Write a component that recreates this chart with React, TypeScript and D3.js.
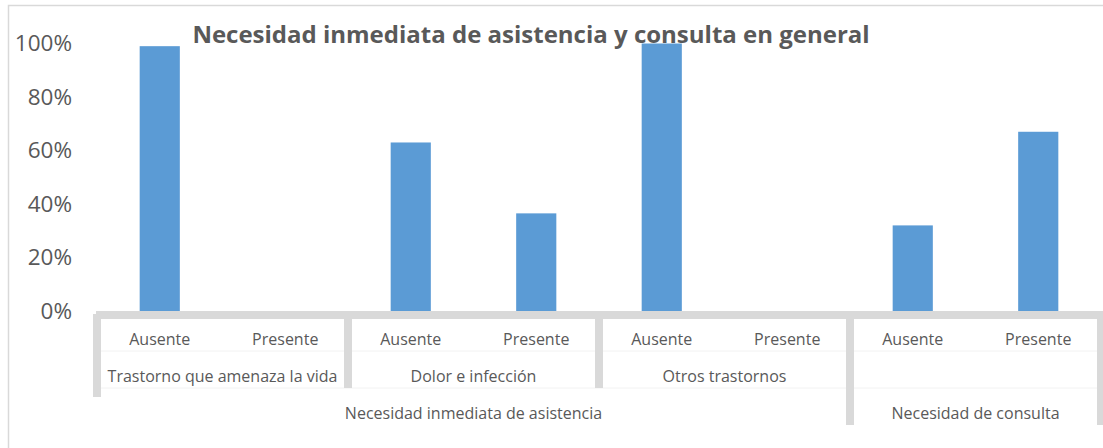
import React from 'react';
import * as d3 from 'd3';

const categories = ['Ausente', 'Presente', 'Ausente', 'Presente', 'Ausente', 'Presente', 'Ausente', 'Presente'];
const subgroups = ['Trastorno que amenaza la vida', 'Dolor e infección', 'Otros trastornos', ''];
const subgroupSpans = [2, 2, 2, 2];
const groups = ['Necesidad inmediata de asistencia', 'Necesidad de consulta'];
const groupSpans = [6, 2];
const values = [0.99, 0, 0.63, 0.365, 1.0, 0, 0.32, 0.67];
const yTicks = [0, 0.2, 0.4, 0.6, 0.8, 1.0];
const title = 'Necesidad inmediata de asistencia y consulta en general';

const W = 1103;
const H = 448;
const FONT = "'Open Sans', sans-serif";
const TXT = '#595959';
const AXIS = '#d9d9d9';

export default function App() {
  const x = d3.scaleBand<number>().domain(d3.range(categories.length)).range([97, 1101]).padding(0);
  const y = d3.scaleLinear().domain([0, 1]).range([311, 43.5]);
  const step = x.step();
  const barW = step * 0.32;
  const fmt = d3.format('.0%');

  const row1 = 339;
  const row2 = 376;
  const row3 = 413;
  const axisTop = 311;
  const lvl1Bottom = 351;
  const lvl2Bottom = 388;
  const lvl3Bottom = 425;

  const subBounds: number[] = [];
  let acc = 0;
  subgroupSpans.forEach((s) => { subBounds.push(acc); acc += s; });
  subBounds.push(acc);
  const grpBounds: number[] = [];
  acc = 0;
  groupSpans.forEach((s) => { grpBounds.push(acc); acc += s; });
  grpBounds.push(acc);

  const xb = (i: number) => (i >= categories.length ? x.range()[1] : (x(i) as number));

  const sepW = 8;

  return (
    <svg width={W} height={H} style={{ position: 'absolute', left: 0, top: 0, background: '#fff' }}>
      <rect x={0} y={0} width={W} height={H} fill="#fff" />
      <rect x={8.5} y={5.5} width={1200} height={600} fill="none" stroke={AXIS} strokeWidth={1.5} />
      <text x={531} y={43} textAnchor="middle" fontFamily={FONT} fontWeight="bold" fontSize={24} fill={TXT}>
        {title}
      </text>
      {yTicks.map((t) => (
        <text key={t} x={72} y={y(t)} dy="0.35em" textAnchor="end" fontFamily={FONT} fontSize={22.5} fill={TXT}>
          {fmt(t)}
        </text>
      ))}
      {values.map((v, i) => (
        <rect
          key={i}
          x={(x(i) as number) + step / 2 - barW / 2}
          y={y(v)}
          width={barW}
          height={y(0) - y(v)}
          fill="#5B9BD5"
        />
      ))}
      <line x1={97} x2={1101} y1={lvl1Bottom} y2={lvl1Bottom} stroke="#f2f2f2" strokeWidth={1} />
      <line x1={97} x2={1101} y1={lvl2Bottom} y2={lvl2Bottom} stroke="#f2f2f2" strokeWidth={1} />
      <rect x={96} y={axisTop} width={1103 - 96} height={sepW} fill={AXIS} />
      {subBounds.map((b, i) => {
        const isGroupBound = grpBounds.includes(b);
        const bottom = b === 0 ? 397 : isGroupBound ? lvl3Bottom : lvl2Bottom;
        const cx = xb(b);
        return <rect key={'s' + i} x={cx - sepW / 2} y={axisTop + 3} width={sepW} height={bottom - axisTop - 3} fill={AXIS} />;
      })}
      {categories.map((c, i) => (
        <text key={'c' + i} x={(x(i) as number) + step / 2} y={row1} dy="0.35em" textAnchor="middle" fontFamily={FONT} fontSize={16} fill={TXT}>
          {c}
        </text>
      ))}
      {subgroups.map((g, i) => (
        <text key={'g' + i} x={(xb(subBounds[i]) + xb(subBounds[i + 1])) / 2} y={row2} dy="0.35em" textAnchor="middle" fontFamily={FONT} fontSize={16} fill={TXT}>
          {g}
        </text>
      ))}
      {groups.map((g, i) => (
        <text key={'G' + i} x={(xb(grpBounds[i]) + xb(grpBounds[i + 1])) / 2} y={row3} dy="0.35em" textAnchor="middle" fontFamily={FONT} fontSize={16} fill={TXT}>
          {g}
        </text>
      ))}
    </svg>
  );
}
